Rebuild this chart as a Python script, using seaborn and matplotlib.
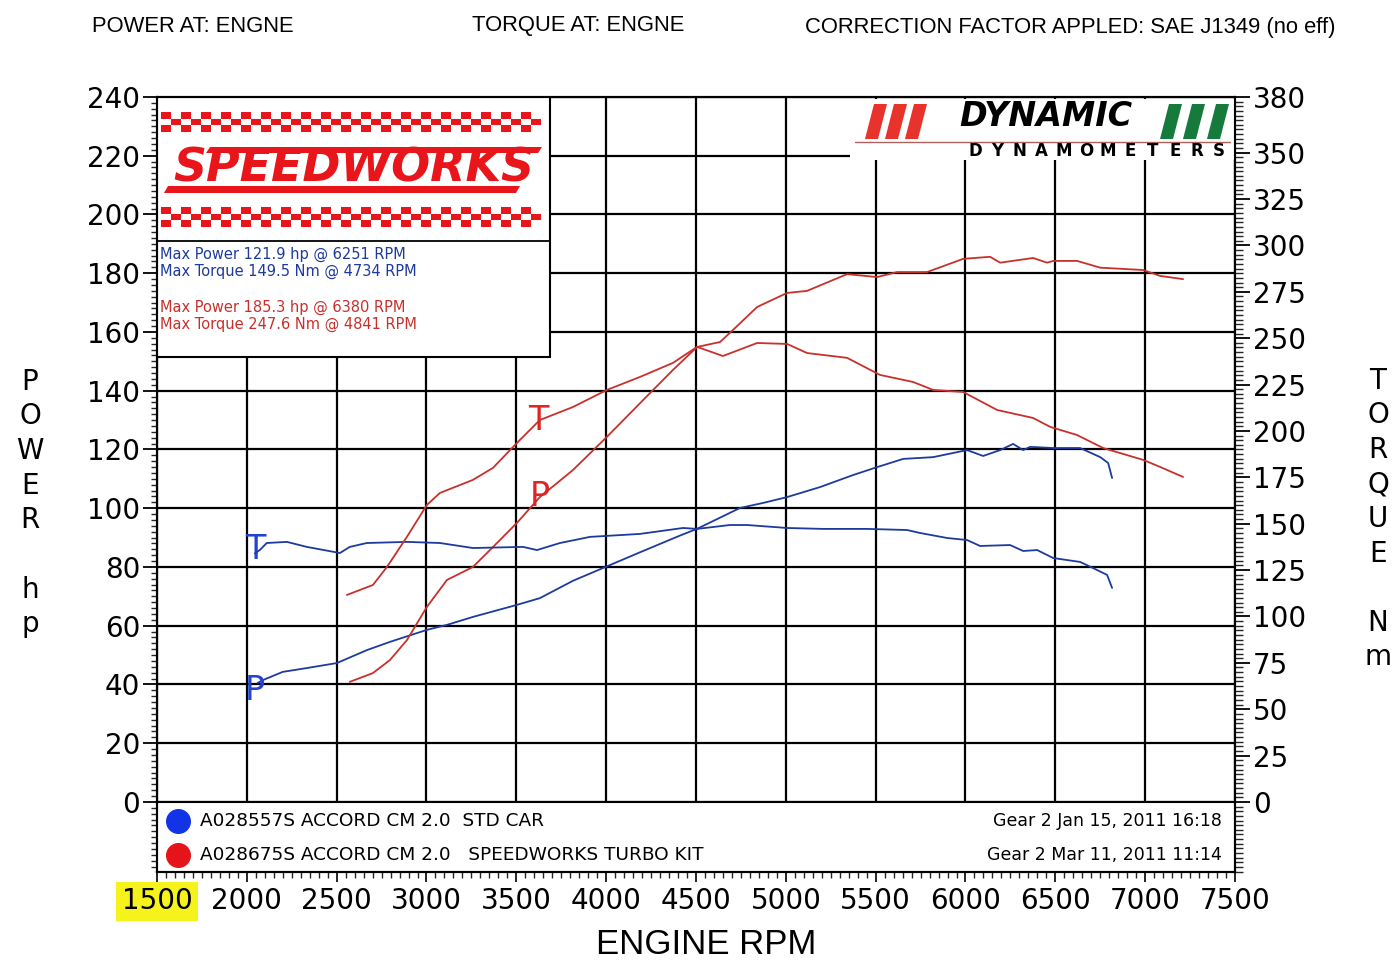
import numpy as np
import pandas as pd
import seaborn as sns
import matplotlib.pyplot as plt
from matplotlib.patches import Rectangle, Polygon
from matplotlib.ticker import MultipleLocator

# std car (blue) - torque in Nm, power in hp
std_torque_rpm = [2045, 2072, 2111, 2223, 2334, 2518, 2573, 2668, 2891, 3075, 3258, 3537, 3615, 3743,
                  3910, 4188, 4428, 4506, 4689, 4784, 5007, 5207, 5452, 5675, 5747, 5898, 6009, 6081,
                  6248, 6321, 6399, 6488, 6638, 6710, 6788, 6816]
std_torque = [134.0, 135.8, 139.6, 140.2, 137.5, 134.2, 137.5, 139.6, 140.2, 139.6, 136.9, 137.5, 135.8, 139.6,
              142.9, 144.5, 147.7, 147.2, 149.3, 149.3, 147.7, 147.2, 147.2, 146.6, 145.0, 142.3, 141.2, 138.0,
              138.5, 135.3, 135.8, 131.5, 129.4, 126.1, 122.4, 115.4]
std_power_rpm = [2060, 2089, 2200, 2334, 2501, 2668, 2796, 3002, 3114, 3258, 3503, 3631, 3815, 3965,
                 4188, 4411, 4506, 4745, 4873, 5007, 5190, 5374, 5508, 5653, 5820, 6009, 6098, 6193,
                 6265, 6321, 6360, 6488, 6638, 6750, 6794, 6816]
std_power = [40.5, 41.5, 44.3, 45.6, 47.3, 51.7, 54.5, 58.6, 60.3, 63.0, 67.1, 69.4, 75.3, 79.2,
             85.0, 90.7, 93.0, 100.1, 101.8, 103.8, 107.2, 111.3, 114.0, 116.8, 117.4, 119.8, 117.8, 119.8,
             121.9, 119.8, 120.9, 120.5, 120.5, 117.4, 115.4, 110.3]

# turbo kit (red)
turbo_torque_rpm = [2557, 2702, 2780, 2891, 3002, 3075, 3258, 3370, 3503, 3631, 3815, 4004, 4188, 4372,
                    4506, 4650, 4840, 5007, 5118, 5341, 5524, 5708, 5820, 5987, 6176, 6376, 6471, 6621,
                    6766, 6989, 7083, 7211]
turbo_torque = [111.6, 117.0, 126.7, 142.9, 160.1, 166.6, 173.6, 180.1, 193.5, 205.9, 212.9, 222.1, 229.1, 236.7,
                245.3, 240.4, 247.4, 246.9, 242.0, 239.4, 230.2, 226.4, 222.1, 221.0, 211.3, 207.0, 202.2, 197.8,
                190.8, 184.4, 180.6, 175.2]
turbo_power_rpm = [2573, 2702, 2796, 2891, 3002, 3114, 3258, 3370, 3503, 3631, 3815, 4004, 4244, 4372,
                   4506, 4634, 4706, 4840, 5007, 5118, 5341, 5508, 5619, 5786, 5987, 6137, 6193, 6376,
                   6454, 6488, 6621, 6750, 6989, 7083, 7211]
turbo_power = [40.9, 43.9, 48.3, 55.1, 66.4, 75.6, 80.0, 86.8, 95.0, 103.8, 113.0, 124.3, 139.2, 147.1,
               154.9, 156.6, 160.7, 168.5, 173.3, 174.0, 179.7, 178.7, 180.4, 180.4, 184.9, 185.6, 183.6, 185.2,
               183.6, 184.2, 184.2, 181.9, 181.1, 179.1, 178.0]

rpm_ticks = list(range(1500, 7501, 500))
hp_ticks = list(range(0, 241, 20))
nm_ticks = list(range(0, 351, 25)) + [380]

runs = ["A028557S ACCORD CM 2.0  STD CAR", "A028675S ACCORD CM 2.0   SPEEDWORKS TURBO KIT"]
run_dates = ["Gear 2 Jan 15, 2011 16:18", "Gear 2 Mar 11, 2011 11:14"]
peak_lines = ["Max Power 121.9 hp @ 6251 RPM", "Max Torque 149.5 Nm @ 4734 RPM",
              "Max Power 185.3 hp @ 6380 RPM", "Max Torque 247.6 Nm @ 4841 RPM"]

BLUE = "#1d3a9e"
RED = "#c8302c"

sns.set_theme(style="ticks", rc={"text.color": "black", "axes.labelcolor": "black"})
plt.rcParams['font.family'] = ['DejaVu Sans']

fig = plt.figure(figsize=(13.97, 9.6), dpi=100)
ax = fig.add_axes([157 / 1397, 1 - 872 / 960, 1078 / 1397, 775 / 960])
ax2 = ax.twinx()

std_t = pd.DataFrame({"rpm": std_torque_rpm, "val": std_torque})
std_p = pd.DataFrame({"rpm": std_power_rpm, "val": std_power})
tur_t = pd.DataFrame({"rpm": turbo_torque_rpm, "val": turbo_torque})
tur_p = pd.DataFrame({"rpm": turbo_power_rpm, "val": turbo_power})

sns.lineplot(data=std_p, x="rpm", y="val", ax=ax, color=BLUE, lw=1.3, estimator=None)
sns.lineplot(data=tur_p, x="rpm", y="val", ax=ax, color=RED, lw=1.3, estimator=None)
sns.lineplot(data=std_t, x="rpm", y="val", ax=ax2, color=BLUE, lw=1.3, estimator=None)
sns.lineplot(data=tur_t, x="rpm", y="val", ax=ax2, color=RED, lw=1.3, estimator=None)

# bottom of the plot hangs below zero for the run legend strip
hp_low = -23.83
ax.set_xlim(1500, 7500)
ax.set_ylim(hp_low, 240)
ax2.set_ylim(hp_low * 380 / 240, 380)

ax.set_xticks(rpm_ticks)
ax.set_xticklabels([str(t) for t in rpm_ticks])
ax.set_yticks(hp_ticks)
ax.set_yticklabels([str(t) for t in hp_ticks])
ax2.set_yticks(nm_ticks)
ax2.set_yticklabels([str(t) for t in nm_ticks])
ax.xaxis.set_minor_locator(MultipleLocator(50))
ax.yaxis.set_minor_locator(MultipleLocator(2))
ax2.yaxis.set_minor_locator(MultipleLocator(2.5))
ax.set_xlabel("")
ax.set_ylabel("")
ax2.set_ylabel("")

ax.grid(True, which="major", color="black", lw=1.6)
ax2.grid(False)
for a in (ax, ax2):
    for s in a.spines.values():
        s.set_color("black")
        s.set_linewidth(1.5)

ax.tick_params(axis="y", which="major", direction="out", length=10, width=1.3, labelsize=20, pad=2, colors="black")
ax.tick_params(axis="y", which="minor", direction="out", length=4, width=1, left=True)
ax.tick_params(axis="x", which="major", direction="out", length=7, width=1.2, labelsize=20, pad=4, colors="black")
ax.tick_params(axis="x", which="minor", direction="out", length=4, width=1, bottom=True)
ax2.tick_params(axis="y", which="major", direction="out", length=11, width=1.3, labelsize=20, pad=2, colors="black")
ax2.tick_params(axis="y", which="minor", direction="out", length=6, width=1, right=True)

ax.get_xticklabels()[0].set_bbox(dict(facecolor="#f6f21c", edgecolor="none", boxstyle="square,pad=0.2"))


def fr(x, y):
    # pixel position on the sheet -> axes fraction
    return ((x - 157) / 1078, (872 - y) / 775)


T = ax.transAxes

# run legend strip
ax.add_patch(Rectangle((1500, hp_low), 6000, -hp_low, facecolor="white", edgecolor="black", lw=1.5, zorder=3))
for i, (name, date, col) in enumerate(zip(runs, run_dates, ["#1234e6", "#e5141a"])):
    yy = 821 + 34 * i
    ax.plot(*fr(178, yy), "o", ms=17, color=col, transform=T, zorder=4, clip_on=False)
    ax.text(*fr(200, yy), name, transform=T, fontsize=13.3, va="center", ha="left", zorder=4)
    ax.text(*fr(1222, yy), date, transform=T, fontsize=12.5, va="center", ha="right", zorder=4)

# speedworks info box
x0, y0 = fr(157, 357)
x1, y1 = fr(550, 97)
ax.add_patch(Rectangle((x0, y0), x1 - x0, y1 - y0, transform=T, facecolor="white", edgecolor="black", lw=1.5, zorder=3))
ax.plot([x0, x1], [fr(0, 241)[1]] * 2, color="black", lw=1.3, transform=T, zorder=4)
for top in (112, 207):
    rh = 20 / 3
    for r in range(3):
        for c in range(38):
            if (r + c) % 2 == 0:
                cx, cy = fr(161 + c * 10, top + (r + 1) * rh)
                ax.add_patch(Rectangle((cx, cy), 10 / 1078, rh / 775, transform=T, facecolor="#e8151b",
                                       edgecolor="none", zorder=4))
ax.add_patch(Polygon([fr(210, 147), fr(542, 147), fr(538, 153), fr(206, 153)], closed=True, transform=T,
                     facecolor="#e8151b", edgecolor="none", zorder=4))
ax.add_patch(Polygon([fr(168, 186), fr(520, 186), fr(516, 193), fr(164, 193)], closed=True, transform=T,
                     facecolor="#e8151b", edgecolor="none", zorder=4))
ax.text(*fr(354, 169), "SPEEDWORKS", transform=T, fontsize=33, fontweight="bold", fontstyle="italic",
        color="#e8151b", ha="center", va="center", zorder=5)
for i, line in enumerate(peak_lines):
    yy = [254, 271, 307, 324][i]
    ax.text(*fr(160, yy), line, transform=T, fontsize=10.5, ha="left", va="center",
            color=BLUE if i < 2 else RED, zorder=5)

# dynamic dynamometers logo
lx0, ly0 = fr(850, 160)
lx1, ly1 = fr(1234, 99)
ax.add_patch(Rectangle((lx0, ly0), lx1 - lx0, ly1 - ly0, transform=T, facecolor="white", edgecolor="none", zorder=3))
for xs, col in ((865, "#e8322c"), (885, "#e8322c"), (905, "#e8322c"),
                (1160, "#157a3c"), (1183, "#157a3c"), (1207, "#157a3c")):
    ax.add_patch(Polygon([fr(xs, 139), fr(xs + 13, 139), fr(xs + 22, 104), fr(xs + 9, 104)], closed=True,
                         transform=T, facecolor=col, edgecolor="none", zorder=4))
ax.plot(*zip(fr(855, 142), fr(1230, 142)), color="#b0605a", lw=1, transform=T, zorder=4)
ax.text(*fr(1046, 117), "DYNAMIC", transform=T, fontsize=24, fontweight="bold", fontstyle="italic",
        color="black", ha="center", va="center", zorder=5)
for i, ch in enumerate("DYNAMOMETERS"):
    ax.text(*fr(975 + i * 22.2, 151), ch, transform=T, fontsize=12, fontweight="bold",
            ha="center", va="center", zorder=5)

# curve tags
ax.text(2045, 86, "T", color="#2343d0", fontsize=24, ha="center", va="center", zorder=5)
ax.text(2045, 38, "P", color="#2343d0", fontsize=24, ha="center", va="center", zorder=5)
ax.text(3620, 130, "T", color="#e02323", fontsize=24, ha="center", va="center", zorder=5)
ax.text(3631, 104, "P", color="#e02323", fontsize=24, ha="center", va="center", zorder=5)

# sheet headers and axis captions
hdr = dict(fontsize=15.8, family=["Liberation Sans", "DejaVu Sans"], va="center", ha="left", color="black")
fig.text(92 / 1397, 1 - 26 / 960, "POWER AT: ENGNE", **hdr)
fig.text(472 / 1397, 1 - 26 / 960, "TORQUE AT: ENGNE", **hdr)
fig.text(805 / 1397, 1 - 27 / 960, "CORRECTION FACTOR APPLED: SAE J1349 (no eff)", **hdr)
fig.text(706 / 1397, 1 - 945 / 960, "ENGINE RPM", fontsize=25, family=["Liberation Sans", "DejaVu Sans"],
         ha="center", va="center", color="black")
fig.text(30 / 1397, 1 - 503 / 960, "P\nO\nW\nE\nR\n\nh\np", fontsize=20, ha="center", va="center",
         linespacing=1.3, color="black")
fig.text(1378 / 1397, 1 - 519 / 960, "T\nO\nR\nQ\nU\nE\n\nN\nm", fontsize=20, ha="center", va="center",
         linespacing=1.3, color="black")

fig.savefig("out.png", dpi=100, facecolor="white")
